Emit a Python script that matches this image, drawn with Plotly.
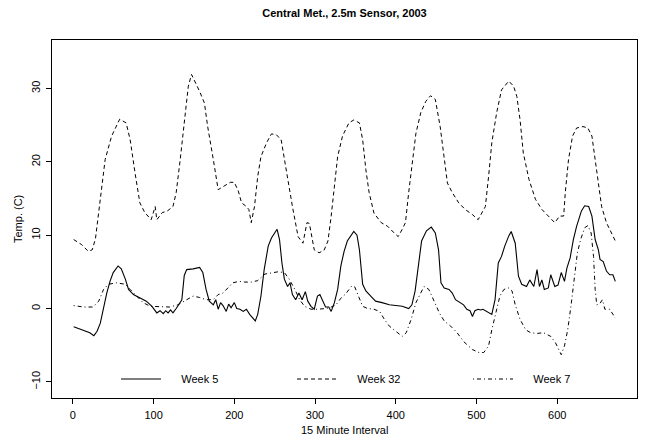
import plotly.graph_objects as go

# Week 5 (solid)
w5_x = [1, 13, 21, 26, 30, 34, 38, 42, 46, 50, 56, 60, 65, 69, 75, 83, 91, 98, 104, 108,
        112, 115, 118, 121, 124, 128, 131, 135, 138, 141, 149, 157, 161, 165, 169, 174, 177, 180, 183, 186,
        190, 193, 196, 200, 203, 207, 211, 215, 219, 223, 226, 229, 233, 237, 242, 246, 250, 253, 256, 259,
        262, 266, 269, 272, 276, 280, 284, 288, 291, 295, 299, 303, 306, 309, 313, 317, 320, 324, 328, 332,
        336, 340, 344, 348, 352, 355, 359, 363, 369, 375, 383, 392, 400, 408, 416, 420, 424, 428, 432, 438,
        444, 449, 453, 456, 460, 466, 470, 474, 480, 484, 488, 492, 495, 498, 502, 505, 508, 511, 515, 519,
        523, 527, 531, 535, 540, 543, 548, 552, 556, 562, 566, 571, 575, 578, 581, 584, 589, 592, 597, 601,
        605, 609, 612, 616, 620, 624, 630, 634, 639, 643, 647, 651, 653, 657, 661, 665, 669, 672]
w5_y = [-2.5, -3.0, -3.3, -3.7, -3.1, -2.0, 0.3, 2.1, 3.7, 4.9, 5.8, 5.4, 4.0, 2.6, 1.9, 1.5, 1.0, 0.3, -0.6, -0.3,
        -0.7, -0.3, -0.6, -0.2, -0.6, 0.0, 0.5, 1.2, 4.5, 5.3, 5.4, 5.6, 4.9, 2.6, 1.0, 0.5, 1.2, -0.1, 0.8, 0.4,
        -0.4, 0.6, 0.1, 0.8, 0.0, -0.1, -0.4, -0.1, -0.8, -1.3, -1.7, -0.8, 1.7, 5.3, 8.5, 9.6, 10.3, 10.8, 9.4, 6.2,
        4.0, 3.0, 3.5, 1.9, 1.2, 2.1, 1.2, 2.3, 1.0, 0.3, -0.1, 1.7, 1.9, 1.2, 0.2, 0.2, -0.4, 0.8, 2.6, 5.8,
        7.8, 9.2, 9.9, 10.5, 10.0, 8.0, 3.3, 2.4, 1.7, 1.0, 0.8, 0.5, 0.4, 0.3, 0.0, 0.5, 2.4, 6.2, 9.2, 10.6,
        11.1, 10.3, 8.0, 3.5, 2.8, 2.6, 2.1, 1.2, 0.8, 0.5, -0.1, -0.3, -1.1, -0.3, -0.1, -0.2, -0.1, -0.3, -0.6, -0.8,
        1.2, 6.2, 7.1, 8.5, 9.9, 10.5, 8.9, 4.4, 3.3, 3.0, 3.9, 3.0, 5.3, 3.0, 3.9, 2.6, 2.8, 4.6, 3.0, 3.2,
        4.9, 3.7, 5.5, 6.9, 9.4, 11.2, 13.3, 14.0, 13.9, 12.6, 9.4, 8.0, 6.7, 6.4, 5.1, 4.6, 4.6, 3.7]

# Week 32 (dashed)
w32_x = [1, 11, 19, 24, 28, 34, 40, 48, 58, 66, 71, 77, 83, 89, 97, 102, 104, 111, 116, 124,
         128, 133, 139, 143, 147, 151, 157, 163, 167, 174, 180, 183, 190, 195, 200, 205, 209, 215, 218, 221,
         225, 229, 233, 240, 246, 252, 258, 262, 266, 272, 279, 285, 290, 293, 299, 305, 311, 316, 320, 324,
         328, 334, 342, 348, 355, 359, 363, 367, 373, 382, 390, 398, 403, 408, 412, 416, 421, 425, 431, 437,
         443, 449, 455, 460, 464, 470, 478, 486, 495, 502, 507, 511, 515, 519, 525, 531, 540, 546, 550, 554,
         558, 565, 573, 581, 589, 597, 603, 608, 610, 614, 619, 624, 632, 638, 643, 647, 651, 655, 661, 667, 672]
w32_y = [9.4, 8.7, 7.8, 8.0, 9.5, 14.8, 20.3, 23.5, 25.8, 25.3, 23.0, 18.5, 14.4, 13.1, 12.1, 13.9, 12.1, 13.1, 13.2, 13.9,
         15.8, 20.3, 26.7, 30.3, 31.9, 31.0, 29.6, 28.0, 24.8, 20.3, 16.2, 16.4, 16.9, 17.2, 17.2, 16.0, 14.4, 13.9, 13.5, 11.7,
         13.9, 18.0, 20.7, 22.6, 23.8, 23.7, 23.0, 20.3, 17.6, 13.9, 9.8, 8.9, 11.7, 11.6, 8.0, 7.6, 7.9, 9.2, 12.6, 16.7,
         20.7, 23.5, 25.3, 25.7, 25.3, 23.0, 18.9, 15.8, 13.0, 11.7, 11.2, 10.3, 9.8, 10.8, 11.7, 15.8, 20.7, 23.9, 26.7, 28.2,
         29.0, 28.5, 24.8, 20.3, 17.1, 15.8, 14.4, 13.5, 12.8, 12.1, 13.0, 13.9, 18.0, 22.6, 26.7, 29.8, 31.0, 30.3, 28.9, 25.7,
         21.2, 17.6, 14.9, 13.5, 12.6, 11.7, 12.6, 12.6, 15.8, 20.3, 23.5, 24.6, 24.8, 24.6, 23.5, 20.3, 16.7, 13.9, 11.7, 10.3, 9.2]

# Week 7 (dot-dash)
w7_x = [1, 13, 25, 32, 38, 44, 54, 65, 71, 79, 87, 96, 108, 120, 130, 141, 149, 157, 165, 174,
        180, 186, 192, 198, 206, 213, 221, 229, 238, 246, 254, 262, 268, 275, 281, 287, 295, 303, 314, 320,
        326, 332, 338, 345, 349, 353, 359, 365, 373, 380, 386, 392, 400, 408, 413, 419, 425, 431, 435, 441,
        447, 454, 460, 468, 476, 484, 495, 503, 509, 515, 519, 524, 529, 534, 540, 544, 548, 554, 561, 567,
        575, 583, 592, 598, 602, 605, 609, 613, 617, 621, 625, 629, 634, 638, 642, 645, 647, 649, 653, 656,
        659, 665, 672]
w7_y = [0.4, 0.2, 0.2, 1.0, 2.6, 3.3, 3.5, 3.3, 2.6, 1.7, 0.8, 0.3, 0.3, 0.2, 0.5, 1.2, 1.7, 1.5, 1.2, 1.2,
        1.9, 2.1, 2.8, 3.5, 3.7, 3.6, 3.6, 3.8, 4.7, 4.9, 5.0, 4.9, 4.0, 2.6, 1.2, 0.3, -0.1, -0.1, 0.0, 0.2,
        0.5, 1.4, 2.0, 3.0, 3.0, 1.9, 0.3, 0.0, -0.1, -0.4, -1.5, -2.4, -3.1, -3.8, -3.3, -1.5, 0.8, 2.0, 3.0, 2.6,
        1.2, -0.6, -1.7, -2.4, -3.3, -4.5, -5.6, -6.0, -6.0, -5.1, -2.9, -0.6, 1.7, 2.6, 2.8, 2.4, 0.5, -1.5, -2.9, -3.3,
        -3.4, -3.3, -3.8, -4.7, -5.6, -6.3, -5.1, -2.9, 0.3, 4.0, 7.6, 9.4, 11.0, 11.3, 10.3, 7.1, 2.6, 0.5, 0.7, 1.2,
        -0.1, -0.1, -1.3]

series_names = ["Week 5", "Week 32", "Week 7"]
x_ticks = [0, 100, 200, 300, 400, 500, 600]
y_ticks = [-10, 0, 10, 20, 30]

FONT = "Liberation Sans, Arial, Helvetica, sans-serif"
PAD = "\u00a0" * 5  # gap between legend key and label

fig = go.Figure()
fig.add_trace(go.Scatter(x=w5_x, y=w5_y, mode="lines", name=PAD + series_names[0], legend="legend",
                         line=dict(color="black", width=1.1)))
fig.add_trace(go.Scatter(x=w32_x, y=w32_y, mode="lines", name=PAD + series_names[1], legend="legend2",
                         line=dict(color="black", width=1, dash="4px,3px")))
fig.add_trace(go.Scatter(x=w7_x, y=w7_y, mode="lines", name=PAD + series_names[2], legend="legend3",
                         line=dict(color="black", width=1, dash="1px,3px,4px,3px")))

# figure is drawn 8px in from the page corner (page body margin)
L, R, T, B = 44, 19, 32, 45
PW = 648 - L - R
PH = 435 - T - B


def leg(px):
    return dict(orientation="h", x=(px - L) / PW, xanchor="left",
                y=(390 - 371) / PH, yanchor="middle", itemwidth=40,
                bgcolor="rgba(0,0,0,0)", borderwidth=0,
                font=dict(family=FONT, size=11, color="black"))


fig.update_layout(
    width=648, height=435,
    margin=dict(l=L, r=R, t=T, b=B, autoexpand=False),
    paper_bgcolor="white", plot_bgcolor="white",
    font=dict(family=FONT, size=11, color="black"),
    title=dict(text="<b>Central Met., 2.5m Sensor, 2003</b>", x=0.5, xref="paper",
               y=1 - 5 / 435, yref="container", yanchor="middle",
               font=dict(family=FONT, size=11, color="black")),
    showlegend=True,
    legend=leg(108), legend2=leg(284), legend3=leg(460),
    xaxis=dict(range=[-25.84, 698.84], tickvals=x_ticks, ticktext=[str(v) for v in x_ticks],
               showgrid=False, zeroline=False, showline=True, linecolor="black", linewidth=1,
               mirror=True, ticks="outside", ticklen=5, tickcolor="black", tickwidth=1,
               ticklabelstandoff=2),
    yaxis=dict(range=[-12.2, 36.6], tickvals=y_ticks,
               ticktext=[("\u2212" + str(-v)) if v < 0 else str(v) for v in y_ticks],
               showgrid=False, zeroline=False, showline=True, linecolor="black", linewidth=1,
               mirror=True, ticks="outside", ticklen=5, tickcolor="black", tickwidth=1,
               tickangle=-90, ticklabelstandoff=2),
    annotations=[
        dict(text="15 Minute Interval", xref="paper", yref="paper", x=0.5, y=0,
             yshift=-32, showarrow=False, yanchor="middle",
             font=dict(family=FONT, size=11, color="black")),
        dict(text="Temp. (C)", xref="paper", yref="paper", x=0, y=0.5,
             xshift=-34, textangle=-90, showarrow=False, xanchor="center",
             font=dict(family=FONT, size=11, color="black")),
    ],
)

fig.write_html("out.html")
